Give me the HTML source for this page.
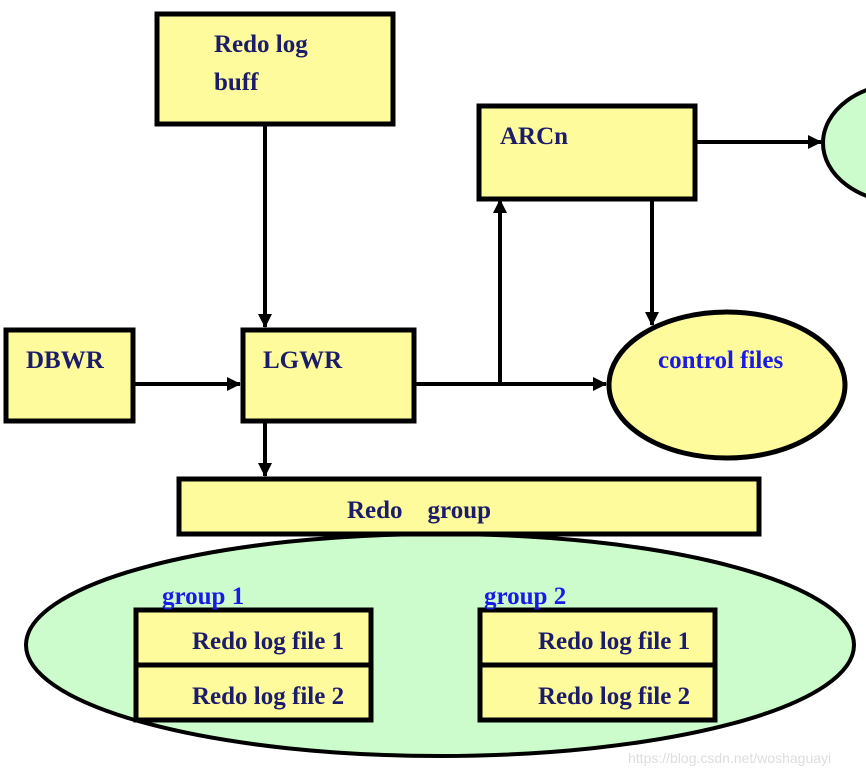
<!DOCTYPE html>
<html><head><meta charset="utf-8"><style>
html,body{margin:0;padding:0;background:#fff;}
svg{display:block;}
text{font-family:"Liberation Serif",serif;font-weight:bold;font-size:25px;fill:#1c1c6a;}
.b{fill:#1a1ae6;}
</style></head><body>
<svg width="866" height="773" viewBox="0 0 866 773" xmlns="http://www.w3.org/2000/svg">
<defs><marker id="a" markerWidth="14" markerHeight="14" refX="13" refY="7" orient="auto" markerUnits="userSpaceOnUse"><path d="M0,0 L14,7 L0,14 z" fill="#000"/></marker></defs>
<g stroke="#000" stroke-width="4" fill="none">
<line x1="265" y1="125" x2="265" y2="327" marker-end="url(#a)"/>
<line x1="134" y1="384" x2="240" y2="384" marker-end="url(#a)"/>
<line x1="415" y1="384" x2="606" y2="384" marker-end="url(#a)"/>
<line x1="500" y1="384" x2="500" y2="200" marker-end="url(#a)"/>
<line x1="652" y1="200" x2="652" y2="325" marker-end="url(#a)"/>
<line x1="697" y1="142" x2="821" y2="142" marker-end="url(#a)"/>
<line x1="265" y1="421" x2="265" y2="476" marker-end="url(#a)"/>
</g>
<g stroke="#000" stroke-width="5" fill="#fdfb9c">
<rect x="157" y="14" width="236" height="110"/>
<rect x="479" y="106" width="216" height="93"/>
<rect x="6" y="330" width="127" height="91"/>
<rect x="243" y="330" width="171" height="91"/>
<ellipse cx="727" cy="385" rx="118" ry="73"/>
</g>
<ellipse cx="905" cy="143" rx="82" ry="60" fill="#ccfccc" stroke="#000" stroke-width="4"/>
<ellipse cx="440" cy="645" rx="414" ry="111" fill="#ccfccc" stroke="#000" stroke-width="4"/>
<rect x="179" y="479" width="580" height="55" fill="#fdfb9c" stroke="#000" stroke-width="5"/>
<g stroke="#000" stroke-width="5" fill="#fdfb9c">
<rect x="136" y="610" width="235" height="55"/>
<rect x="136" y="665" width="235" height="55"/>
<rect x="480" y="610" width="235" height="55"/>
<rect x="480" y="665" width="235" height="55"/>
</g>
<text x="214" y="52">Redo log</text>
<text x="214" y="90">buff</text>
<text x="500" y="144">ARCn</text>
<text x="26" y="368">DBWR</text>
<text x="263" y="368">LGWR</text>
<text x="658" y="368" class="b">control files</text>
<text x="347" y="518" xml:space="preserve">Redo    group</text>
<text x="162" y="604" class="b">group 1</text>
<text x="484" y="604" class="b">group 2</text>
<text x="192" y="649">Redo log file 1</text>
<text x="192" y="704">Redo log file 2</text>
<text x="538" y="649">Redo log file 1</text>
<text x="538" y="704">Redo log file 2</text>
<text x="628" y="763" style="font-family:'Liberation Sans',sans-serif;font-weight:normal;font-size:14px;fill:#ddd">https://blog.csdn.net/woshaguayi</text>
</svg>
</body></html>
